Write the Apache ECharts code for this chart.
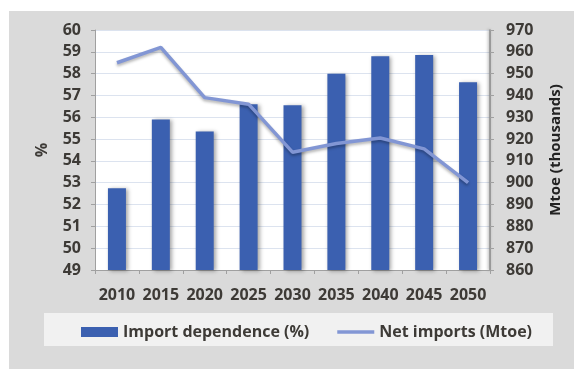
<!DOCTYPE html>
<html>
<head>
<meta charset="utf-8">
<script src="https://cdn.jsdelivr.net/npm/echarts@6/dist/echarts.min.js"></script>
<style>
  html, body { margin: 0; padding: 0; background: #fff; }
  #main { width: 574px; height: 369px; }
</style>
</head>
<body>
<div id="main"></div>
<script>
    // chart data
    var years = ['2010', '2015', '2020', '2025', '2030', '2035', '2040', '2045', '2050'];
    var importDependence = [52.75, 55.9, 55.35, 56.6, 56.55, 58.0, 58.8, 58.85, 57.6];
    var netImports = [955, 962, 939, 936, 914, 918, 920.5, 915.5, 900];

    var txt = '#3d3a36';
    var font = '"Open Sans", "Liberation Sans", sans-serif';

    var myChart = echarts.init(document.getElementById('main'));
    var option = {
        backgroundColor: '#fff',
        textStyle: { fontFamily: font },
        graphic: [
            {
                type: 'rect', z: -10, silent: true,
                shape: { x: 9, y: 11, width: 570, height: 365 },
                style: { fill: '#dadada' }
            },
            {
                type: 'rect', z: -9, silent: true,
                shape: { x: 44, y: 313, width: 509, height: 33 },
                style: { fill: '#f1f1f1' }
            }
        ],
        grid: {
            left: 95,
            right: 84,
            top: 30,
            bottom: 99,
            show: true,
            backgroundColor: '#ffffff',
            borderWidth: 0
        },
        legend: {
            left: 76,
            top: 319,
            itemGap: 28,
            itemWidth: 37,
            itemHeight: 10,
            textStyle: { fontSize: 16, fontWeight: 'bold', color: txt, fontFamily: font },
            data: [
                { name: 'Import dependence (%)', icon: 'rect' },
                { name: 'Net imports (Mtoe)', icon: 'path://M0 0 H40 V4 H0 Z' }
            ]
        },
        xAxis: {
            type: 'category',
            data: years,
            axisLine: { lineStyle: { color: '#a0a0a0' } },
            axisTick: { show: true, length: 4, lineStyle: { color: '#a0a0a0' } },
            axisLabel: { interval: 0, fontSize: 16, fontWeight: 'bold', color: txt, margin: 17 }
        },
        yAxis: [
            {
                type: 'value',
                min: 49, max: 60, interval: 1,
                name: '%',
                nameLocation: 'middle',
                nameGap: 45,
                nameTextStyle: { fontSize: 16, fontWeight: 'bold', color: txt },
                axisLine: { show: true, lineStyle: { color: '#a0a0a0' } },
                axisTick: { show: true, length: 4, lineStyle: { color: '#a0a0a0' } },
                axisLabel: { fontSize: 16, fontWeight: 'bold', color: txt, margin: 14 },
                splitLine: { lineStyle: { color: '#dce3ef' } }
            },
            {
                type: 'value',
                min: 860, max: 970, interval: 10,
                name: 'Mtoe (thousands)',
                nameLocation: 'middle',
                nameGap: 58,
                nameTextStyle: { fontSize: 15, fontWeight: 'bold', color: '#222' },
                axisLine: {
                    show: true,
                    lineStyle: { color: '#8a8a8a', width: 1.5, shadowColor: 'rgba(0,0,0,0.4)', shadowBlur: 3, shadowOffsetX: -1 }
                },
                axisTick: { show: true, length: 4, lineStyle: { color: '#a0a0a0' } },
                axisLabel: { fontSize: 16, fontWeight: 'bold', color: txt, margin: 16 },
                splitLine: { show: false }
            }
        ],
        series: [
            {
                name: 'Import dependence (%)',
                type: 'bar',
                yAxisIndex: 0,
                barWidth: 18,
                itemStyle: {
                    color: '#3b60b0',
                    shadowColor: 'rgba(0,0,0,0.35)',
                    shadowBlur: 4,
                    shadowOffsetX: 2,
                    shadowOffsetY: 1
                },
                data: importDependence
            },
            {
                name: 'Net imports (Mtoe)',
                type: 'line',
                yAxisIndex: 1,
                symbol: 'none',
                lineStyle: {
                    color: '#8296d4',
                    width: 3.5,
                    shadowColor: 'rgba(0,0,0,0.3)',
                    shadowBlur: 3,
                    shadowOffsetY: 2
                },
                itemStyle: { color: '#8296d4' },
                data: netImports
            }
        ]
    };
    myChart.setOption(option);
</script>
</body>
</html>
